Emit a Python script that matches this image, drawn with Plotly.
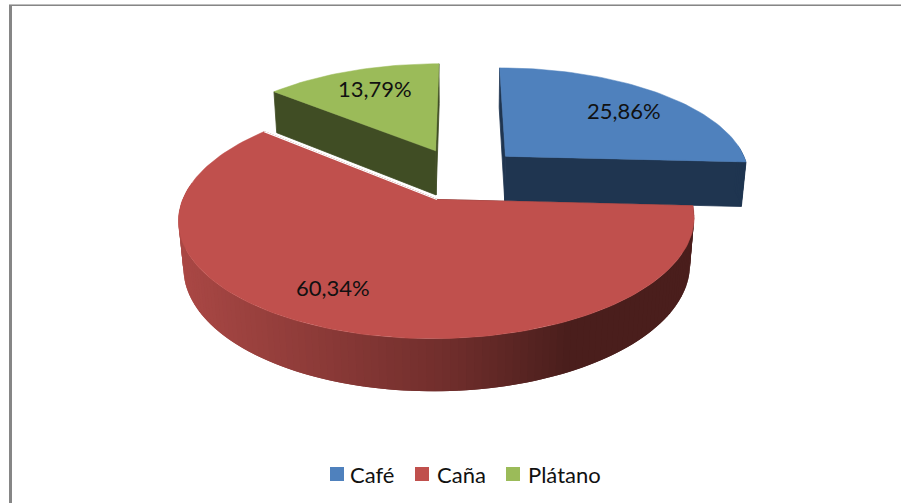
import numpy as np
import plotly.graph_objects as go

# ---- data ----
categories = ["Café", "Caña", "Plátano"]
values = [15, 35, 8]

# ---- styles ----
top_colors = ["#4F81BD", "#C0504D", "#9BBB59"]
wall_colors = ["#1F3550", "#7A2F2D", "#404D24"]
red_wall_stops = [(180, (170, 72, 69)), (450, (112, 46, 44)), (570, (74, 30, 28)), (700, (74, 30, 28))]
label_pos = [(624, 110), (333, 287), (375, 88)]
legend_swatch_x = [330, 415, 506]
legend_text_x = [348, 435, 526]
LEGEND_Y, SWATCH = 474, 14
FONT = "Lato"
DRAW_ORDER = [2, 0, 1]

# ---- camera model of the tilted, exploded pie (pixel space) ----
CX, CY = 460, 174
R, EXPLODE = 245, 60
K, P, H, Q = 0.44, 0.16, 46, 0.017
slice_dx = [3, 0, 0]


def project(x, yf, bottom=False, dx=0):
    x, yf = np.asarray(x, float), np.asarray(yf, float)
    d = 1 - P * yf / R + (Q if bottom else 0)
    return CX + dx + x / d, CY + (K * yf + (H if bottom else 0)) / d


def wall_shade(px):
    xs = [s[0] for s in red_wall_stops]
    rgb = [np.interp(px, xs, [s[1][i] for s in red_wall_stops]) for i in range(3)]
    return "rgb(%d,%d,%d)" % tuple(rgb)


def poly(px, py, color, line=0.8):
    return go.Scatter(x=list(px), y=list(py), mode="lines", fill="toself", fillcolor=color,
                      line=dict(color=color, width=line), hoverinfo="skip", showlegend=False)


total = sum(values)
shares = np.array(values) / total * 360
ends = np.cumsum(shares)
starts = ends - shares

fig = go.Figure()
for i in DRAW_ORDER:
    a0, a1 = np.radians(starts[i]), np.radians(ends[i])
    mid = (a0 + a1) / 2
    dx = slice_dx[i]
    ox, oy = EXPLODE * np.sin(mid), -EXPLODE * np.cos(mid)
    t = np.linspace(a0, a1, max(int(np.degrees(a1 - a0) / 1.5), 8))
    rx, ry = ox + R * np.sin(t), oy - R * np.cos(t)

    # radial walls
    for a in (a0, a1):
        ex, ey = ox + R * np.sin(a), oy - R * np.cos(a)
        tx, ty = project([ox, ex], [oy, ey], dx=dx)
        bx, by = project([ex, ox], [ey, oy], True, dx=dx)
        fig.add_trace(poly(np.r_[tx, bx, tx[0]], np.r_[ty, by, ty[0]], wall_colors[i]))

    # rim wall: each strip runs under the next one, so no seams show
    tx, ty = project(rx, ry, dx=dx)
    bx, by = project(rx, ry, True, dx=dx)
    for j in range(len(t) - 1):
        if np.cos(t[j]) > 0.12:
            continue
        n = min(j + 2, len(t) - 1)
        c = wall_shade((tx[j] + tx[j + 1]) / 2) if i == 1 else wall_colors[i]
        fig.add_trace(poly([tx[j], tx[n], bx[n], bx[j], tx[j]],
                           [ty[j], ty[n], by[n], by[j], ty[j]], c, line=0))

    # top face
    ax, ay = project([ox], [oy], dx=dx)
    fig.add_trace(poly(np.r_[ax, tx, ax], np.r_[ay, ty, ay], top_colors[i], line=0.5))

    if i == 1:  # thin white seam along the red slice's back edge
        ex, ey = ox + R * np.sin(a1), oy - R * np.cos(a1)
        sx, sy = project([ox, ex], [oy, ey], dx=dx)
        fig.add_trace(go.Scatter(x=sx, y=sy, mode="lines", line=dict(color="white", width=1.2),
                                 hoverinfo="skip", showlegend=False))

# percentage labels
for v, (lx, ly) in zip(values, label_pos):
    fig.add_annotation(x=lx, y=ly, xref="x", yref="y", showarrow=False,
                       text=f"{v / total * 100:.2f}%".replace(".", ","),
                       font=dict(family=FONT, size=22, color="#111"))

# legend
for name, color, sx, tx in zip(categories, top_colors, legend_swatch_x, legend_text_x):
    fig.add_shape(type="rect", x0=sx, x1=sx + SWATCH, y0=LEGEND_Y - SWATCH / 2, y1=LEGEND_Y + SWATCH / 2,
                  xref="x", yref="y", fillcolor=color, line_width=0)
    fig.add_annotation(x=tx, y=LEGEND_Y, xref="x", yref="y", showarrow=False, xanchor="left",
                       text=name, font=dict(family=FONT, size=22, color="#111"))

# chart frame
fig.add_shape(type="rect", x0=9, x1=12, y0=4, y1=503, xref="x", yref="y",
              fillcolor="#868686", line_width=0, layer="below")
fig.add_shape(type="rect", x0=9, x1=901, y0=4, y1=5, xref="x", yref="y",
              fillcolor="#BDBDBD", line_width=0, layer="below")
fig.add_shape(type="rect", x0=9, x1=901, y0=5, y1=6, xref="x", yref="y",
              fillcolor="#868686", line_width=0, layer="below")

fig.update_layout(
    width=901, height=503, margin=dict(l=0, r=0, t=0, b=0), showlegend=False,
    paper_bgcolor="white", plot_bgcolor="white",
    xaxis=dict(range=[0, 901], visible=False, fixedrange=True),
    yaxis=dict(range=[503, 0], visible=False, fixedrange=True),
    font=dict(family=FONT, color="#111"),
)
fig.write_html("out.html", config=dict(displayModeBar=False),
               post_script="document.body.style.margin='0';document.body.style.overflow='hidden';")
